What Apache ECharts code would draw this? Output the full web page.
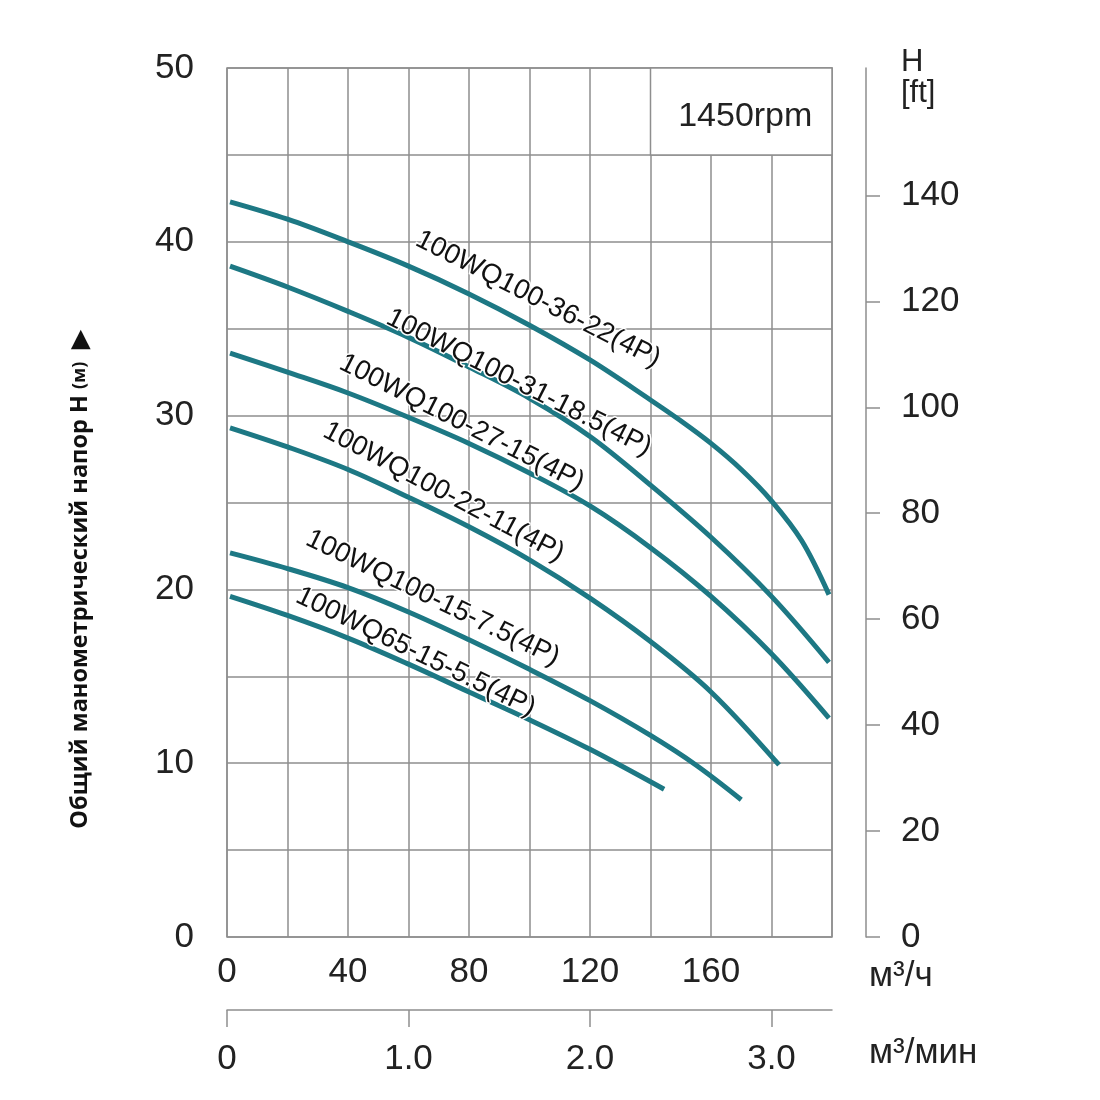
<!DOCTYPE html>
<html><head><meta charset="utf-8">
<script src="https://cdn.jsdelivr.net/npm/echarts@6/dist/echarts.min.js"></script>
<style>html,body{margin:0;padding:0;background:#fff}#c{width:1100px;height:1100px}</style>
</head><body><div id="c"></div>
<script>
// ---- data ----
const flowLabelValues = [0, 40, 80, 120, 160];          // m3/h tick labels
const headLabelValues = [0, 10, 20, 30, 40, 50];        // m tick labels
const feetLabelValues = [0, 20, 40, 60, 80, 100, 120, 140]; // ft tick labels
const minuteLabelValues = [0, 1, 2, 3];                 // m3/min tick labels

const curveNames = [
  '100WQ100-36-22(4P)',
  '100WQ100-31-18.5(4P)',
  '100WQ100-27-15(4P)',
  '100WQ100-22-11(4P)',
  '100WQ100-15-7.5(4P)',
  '100WQ65-15-5.5(4P)'
];
const curve36_22 = [[1,42.3],[20,41.3],[40,40.0],[60,38.6],[80,37.0],[100,35.2],[120,33.2],[140,30.9],[150,29.7],[160,28.4],[170,26.9],[180,25.1],[190,22.8],[199,19.7]];
const curve31_185 = [[1,38.6],[20,37.4],[40,36.0],[60,34.5],[80,32.8],[100,31.0],[120,28.8],[140,26.0],[160,23.0],[180,19.6],[199,15.8]];
const curve27_15 = [[1,33.6],[20,32.5],[40,31.3],[60,29.9],[80,28.4],[100,26.7],[120,24.8],[140,22.4],[160,19.6],[180,16.3],[199,12.6]];
const curve22_11 = [[1,29.3],[20,28.2],[40,26.9],[60,25.3],[80,23.6],[100,21.7],[120,19.5],[140,17.0],[160,14.1],[182.5,9.9]];
const curve15_75 = [[1,22.1],[20,21.2],[40,20.1],[60,18.7],[80,17.1],[100,15.4],[120,13.6],[140,11.6],[155,9.9],[170,7.9]];
const curve15_55 = [[1,19.6],[20,18.5],[40,17.2],[60,15.7],[80,14.1],[100,12.5],[120,10.8],[144.5,8.5]];
const curveData = [curve36_22, curve31_185, curve27_15, curve22_11, curve15_75, curve15_55];

const qMax = 200, hMax = 50;
const M_TO_FT = 3.28084;

// ---- chart ----
const chart = echarts.init(document.getElementById('c'), null, {renderer: 'canvas'});
const FONT = 'Liberation Sans';
const lineColor = '#1d7884';
const gridColor = '#8e8e8e';
const textColor = '#222';

const labelSpots = [
  {coord: [102.8, 36.7], rotate: -27},
  {coord: [96.5, 31.9], rotate: -27},
  {coord: [77.6, 29.6], rotate: -27},
  {coord: [71.6, 25.6], rotate: -28},
  {coord: [68, 19.5], rotate: -26},
  {coord: [62.4, 16.4], rotate: -26}
];

const series = curveData.map((d, i) => {
  const s = {
    type: 'line',
    name: curveNames[i],
    data: d,
    smooth: 0.35,
    showSymbol: false,
    symbol: 'none',
    lineStyle: {color: lineColor, width: 5},
    z: 3,
    markPoint: {
      symbol: 'circle', symbolSize: 1,
      itemStyle: {color: 'rgba(0,0,0,0)'},
      label: {
        show: true, position: 'inside', formatter: curveNames[i],
        rotate: labelSpots[i].rotate,
        fontFamily: FONT, fontSize: 27.5, color: '#111',
        textBorderColor: '#fff', textBorderWidth: 3
      },
      data: [{coord: labelSpots[i].coord}],
      z: 5
    }
  };
  if (i === 0) {
    s.markArea = {
      silent: true,
      itemStyle: {color: '#fff', borderColor: gridColor, borderWidth: 1.5},
      label: {show: true, position: 'inside', offset: [4, 5], formatter: '1450rpm', fontFamily: FONT, fontSize: 34, color: textColor},
      data: [[{coord: [140, 45]}, {coord: [200, 50]}]]
    };
  }
  return s;
});

chart.setOption({
  animation: false,
  backgroundColor: '#fff',
  grid: {left: 227, top: 68, right: 268, bottom: 163, show: true, borderColor: gridColor, borderWidth: 1.5, backgroundColor: 'transparent'},
  xAxis: [
    {
      type: 'value', min: 0, max: qMax, interval: 20, position: 'bottom',
      axisLine: {show: false}, axisTick: {show: false},
      splitLine: {show: true, lineStyle: {color: gridColor, width: 1.5}},
      axisLabel: {customValues: flowLabelValues, margin: 18, fontFamily: FONT, fontSize: 35, color: textColor}
    },
    {
      type: 'value', min: 0, max: qMax / 60, interval: 1, position: 'bottom', offset: 73,
      axisLine: {show: true, onZero: false, lineStyle: {color: gridColor, width: 1.5}},
      axisTick: {show: true, customValues: minuteLabelValues, length: 17, lineStyle: {color: gridColor, width: 1.5}},
      splitLine: {show: false},
      axisLabel: {customValues: minuteLabelValues, margin: 32, fontFamily: FONT, fontSize: 35, color: textColor,
        formatter: v => v === 0 ? '0' : v.toFixed(1)}
    }
  ],
  yAxis: [
    {
      type: 'value', min: 0, max: hMax, interval: 5, position: 'left',
      axisLine: {show: false}, axisTick: {show: false},
      splitLine: {show: true, lineStyle: {color: gridColor, width: 1.5}},
      axisLabel: {customValues: headLabelValues, margin: 33, fontFamily: FONT, fontSize: 35, color: textColor}
    },
    {
      type: 'value', min: 0, max: hMax * M_TO_FT, position: 'right', offset: 34,
      axisLine: {show: true, onZero: false, lineStyle: {color: gridColor, width: 1.5}},
      axisTick: {show: true, customValues: feetLabelValues, length: 14, lineStyle: {color: gridColor, width: 1.5}},
      splitLine: {show: false},
      axisLabel: {customValues: feetLabelValues, margin: 35, fontFamily: FONT, fontSize: 35, color: textColor}
    }
  ],
  graphic: [
    {type: 'text', left: 901, top: 47, style: {text: 'H\n[ft]', font: '31px "Liberation Sans"', fill: textColor, align: 'center', lineHeight: 31}},
    {type: 'text', left: 869, top: 959, style: {text: 'м³/ч', font: '35px "Liberation Sans"', fill: textColor}},
    {type: 'text', left: 869, top: 1036, style: {text: 'м³/мин', font: '35px "Liberation Sans"', fill: textColor}},
    {type: 'text', x: 80, y: 580, rotation: Math.PI / 2,
      style: {
        text: '{a|Общий манометрический напор H }{b|(м)}{a|  ▶}',
        align: 'center', verticalAlign: 'middle',
        rich: {
          a: {fontFamily: 'Open Sans', fontWeight: 'bold', fontSize: 23.5, fill: '#111', color: '#111'},
          b: {fontFamily: 'Open Sans', fontWeight: 'bold', fontSize: 18, fill: '#111', color: '#111'}
        }
      }
    }
  ],
  series: series
});
</script></body></html>
